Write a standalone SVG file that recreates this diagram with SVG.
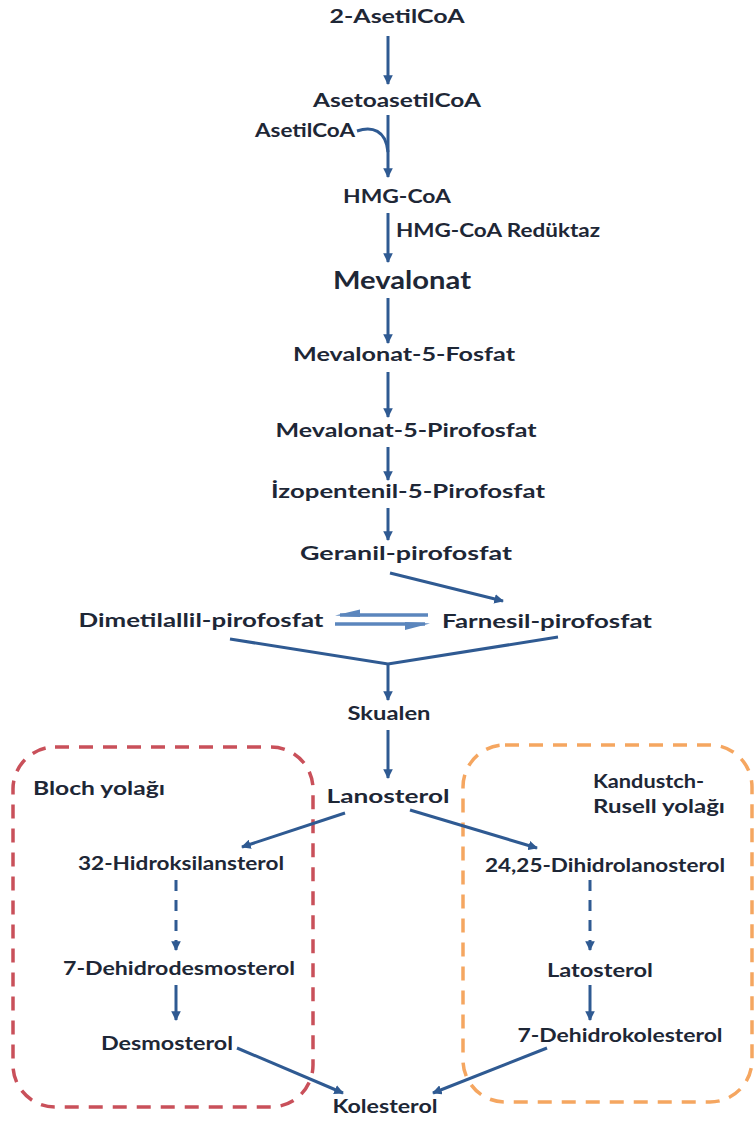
<svg xmlns="http://www.w3.org/2000/svg" width="755" height="1124" viewBox="0 0 755 1124">
  <style>
    text { font-family: Lato, "Open Sans", sans-serif; font-weight: 700; font-size: 19px; fill: #1e2736; text-anchor: middle; }
    .big { font-size: 24px; }
    .lbl { text-anchor: start; }
    .arr { stroke: #2f5a92; stroke-width: 3; fill: none; marker-end: url(#head); }
    .ln { stroke: #2f5a92; stroke-width: 3; fill: none; }
    .dash { stroke: #2f5a92; stroke-width: 3; fill: none; stroke-dasharray: 11 9; marker-end: url(#head); }
    .eq { stroke: #5b86bd; stroke-width: 3.5; fill: none; }
    .eqhead { fill: #5b86bd; }
    .red { fill: none; stroke: #c9505a; stroke-width: 3.5; stroke-dasharray: 14 10; }
    .orange { fill: none; stroke: #f5a660; stroke-width: 3.5; stroke-dasharray: 14 10; }
  </style>
  <defs>
    <marker id="head" viewBox="0 0 10 10" refX="9" refY="5" markerWidth="3.2" markerHeight="3.2" orient="auto" markerUnits="strokeWidth">
      <path d="M0,0 L10,5 L0,10 z" fill="#2f5a92"/>
    </marker>
  </defs>

  <!-- pathway boxes -->
  <g id="bloch-box">
    <rect class="red" x="13" y="747" width="300" height="360" rx="42" ry="42"/>
    <text class="lbl" x="33" y="795" textLength="132" lengthAdjust="spacingAndGlyphs">Bloch yolağı</text>
  </g>
  <g id="kandutsch-box">
    <rect class="orange" x="463" y="745" width="289" height="357" rx="42" ry="42"/>
    <text class="lbl" x="593" y="788" textLength="111" lengthAdjust="spacingAndGlyphs">Kandustch-</text>
    <text class="lbl" x="593" y="813" textLength="132" lengthAdjust="spacingAndGlyphs">Rusell yolağı</text>
  </g>

  <!-- connectors -->
  <g id="connectors">
    <line class="arr" x1="388" y1="36" x2="388" y2="84"/>
    <line class="arr" x1="388" y1="115" x2="388" y2="177"/>
    <path class="ln" d="M357,131 C372,126 386,130 388,152"/>
    <line class="arr" x1="388" y1="213" x2="388" y2="262"/>
    <line class="arr" x1="388" y1="298" x2="388" y2="343"/>
    <line class="arr" x1="388" y1="372" x2="388" y2="417"/>
    <line class="arr" x1="388" y1="447" x2="388" y2="480"/>
    <line class="arr" x1="388" y1="508" x2="388" y2="540"/>
    <line class="arr" x1="390" y1="573" x2="503" y2="601"/>
    <!-- equilibrium half-arrows -->
    <line class="eq" x1="340" y1="615" x2="428" y2="615"/>
    <polygon class="eqhead" points="335,615.5 360,609.5 360,617"/>
    <line class="eq" x1="335" y1="624" x2="425" y2="624"/>
    <polygon class="eqhead" points="430,623.5 405,622 405,630"/>
    <!-- convergence to squalene -->
    <path class="ln" d="M230,639 L388,664 L558,637"/>
    <line class="arr" x1="388" y1="664" x2="388" y2="700"/>
    <line class="arr" x1="388" y1="730" x2="388" y2="778"/>
    <line class="arr" x1="345" y1="813" x2="242" y2="847"/>
    <line class="arr" x1="410" y1="810" x2="537" y2="848"/>
    <line class="dash" x1="176" y1="880" x2="176" y2="950"/>
    <line class="arr" x1="176" y1="985" x2="176" y2="1020"/>
    <line class="arr" x1="237" y1="1048" x2="343" y2="1093"/>
    <line class="dash" x1="590" y1="880" x2="590" y2="950"/>
    <line class="arr" x1="590" y1="985" x2="590" y2="1020"/>
    <line class="arr" x1="547" y1="1048" x2="433" y2="1093"/>
  </g>

  <!-- metabolites -->
  <g id="n-asetilcoa2"><text x="397" y="23" textLength="135" lengthAdjust="spacingAndGlyphs">2-AsetilCoA</text></g>
  <g id="n-asetoasetilcoa"><text x="397" y="107" textLength="168" lengthAdjust="spacingAndGlyphs">AsetoasetilCoA</text></g>
  <g id="n-asetilcoa"><text class="lbl" x="255" y="137" textLength="100" lengthAdjust="spacingAndGlyphs">AsetilCoA</text></g>
  <g id="n-hmgcoa"><text x="397" y="203" textLength="108" lengthAdjust="spacingAndGlyphs">HMG-CoA</text></g>
  <g id="n-reduktaz"><text class="lbl" x="396" y="237" textLength="204" lengthAdjust="spacingAndGlyphs">HMG-CoA Redüktaz</text></g>
  <g id="n-mevalonat"><text class="big" x="402" y="289" textLength="138" lengthAdjust="spacingAndGlyphs">Mevalonat</text></g>
  <g id="n-mev5f"><text x="404" y="361" textLength="222" lengthAdjust="spacingAndGlyphs">Mevalonat-5-Fosfat</text></g>
  <g id="n-mev5pp"><text x="406" y="437" textLength="261" lengthAdjust="spacingAndGlyphs">Mevalonat-5-Pirofosfat</text></g>
  <g id="n-izopentenil"><text x="408" y="498" textLength="274" lengthAdjust="spacingAndGlyphs">İzopentenil-5-Pirofosfat</text></g>
  <g id="n-geranil"><text x="406" y="560" textLength="212" lengthAdjust="spacingAndGlyphs">Geranil-pirofosfat</text></g>
  <g id="n-dimetilallil"><text x="201" y="627" textLength="245" lengthAdjust="spacingAndGlyphs">Dimetilallil-pirofosfat</text></g>
  <g id="n-farnesil"><text x="547" y="628" textLength="210" lengthAdjust="spacingAndGlyphs">Farnesil-pirofosfat</text></g>
  <g id="n-skualen"><text x="389" y="720" textLength="83" lengthAdjust="spacingAndGlyphs">Skualen</text></g>
  <g id="n-lanosterol"><text x="388" y="803" textLength="123" lengthAdjust="spacingAndGlyphs">Lanosterol</text></g>
  <g id="n-hidroksilansterol"><text x="181" y="870" textLength="206" lengthAdjust="spacingAndGlyphs">32-Hidroksilansterol</text></g>
  <g id="n-dehidrodesmosterol"><text x="179" y="975" textLength="232" lengthAdjust="spacingAndGlyphs">7-Dehidrodesmosterol</text></g>
  <g id="n-desmosterol"><text x="167" y="1050" textLength="132" lengthAdjust="spacingAndGlyphs">Desmosterol</text></g>
  <g id="n-dihidrolanosterol"><text x="605" y="872" textLength="240" lengthAdjust="spacingAndGlyphs">24,25-Dihidrolanosterol</text></g>
  <g id="n-latosterol"><text x="600" y="977" textLength="106" lengthAdjust="spacingAndGlyphs">Latosterol</text></g>
  <g id="n-dehidrokolesterol"><text x="620" y="1042" textLength="205" lengthAdjust="spacingAndGlyphs">7-Dehidrokolesterol</text></g>
  <g id="n-kolesterol"><text x="385" y="1113" textLength="105" lengthAdjust="spacingAndGlyphs">Kolesterol</text></g>
</svg>
